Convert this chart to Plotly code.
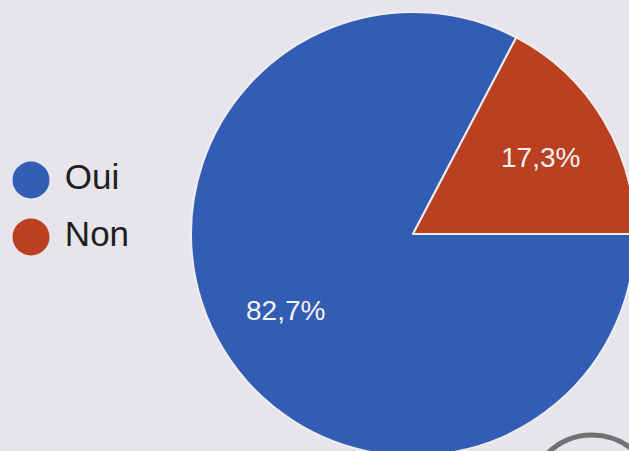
import math
import plotly.graph_objects as go

categories = ["Oui", "Non"]
values = [82.7, 17.3]
colors = ["#335db5", "#ba4021"]
text_labels = ["82,7%", "17,3%"]

BG = "#e7e4eb"
W, H = 640, 460          # slightly larger than the 629x451 window; the pie is cropped like the reference
CX, CY, R = 413, 234, 222  # pie centre / radius in pixels (from top-left)
FONT = "Liberation Sans, Arial, sans-serif"

fig = go.Figure()

fig.add_trace(go.Pie(
    labels=categories,
    values=values,
    textinfo="none",
    marker=dict(colors=colors, line=dict(color="#eeeeee", width=2)),
    sort=False,
    direction="clockwise",
    rotation=90,
    domain=dict(x=[(CX - R) / W, (CX + R) / W], y=[(H - CY - R) / H, (H - CY + R) / H]),
    showlegend=False,
    hoverinfo="label+percent",
))

# percentage labels placed along each slice's middle angle
total = sum(values)
start = 90.0
annotations = []
for v, t in zip(values, text_labels):
    span = 360.0 * v / total
    mid = math.radians(start + span / 2)
    start += span
    rr = 0.67 * R
    px = CX + rr * math.sin(mid)
    py = CY - rr * math.cos(mid)
    annotations.append(dict(
        x=px / W, y=(H - py) / H, xref="paper", yref="paper",
        text=t, showarrow=False, xanchor="center", yanchor="middle",
        font=dict(color="#f2f2f2", size=28, family=FONT),
    ))

# Legend drawn as a circle-marker trace, one row per category
LEG_X, LEG_Y0, LEG_DY = 31, 180, 57
y_range = [(H - LEG_Y0) / LEG_DY, (H - LEG_Y0) / LEG_DY - H / LEG_DY]
x_range = [-LEG_X / 10.0, (W - LEG_X) / 10.0]

fig.add_trace(go.Scatter(
    x=[0] * len(categories),
    y=list(range(len(categories))),
    mode="markers+text",
    marker=dict(color=colors, size=37, line=dict(width=0)),
    text=[" " + c for c in categories],
    textposition="middle right",
    textfont=dict(color="#1f1f1f", size=35, family=FONT),
    showlegend=False,
    hoverinfo="skip",
    cliponaxis=False,
))

fig.update_layout(
    width=W,
    height=H,
    margin=dict(l=0, r=0, t=0, b=0),
    paper_bgcolor=BG,
    plot_bgcolor="rgba(0,0,0,0)",
    xaxis=dict(range=x_range, visible=False, fixedrange=True),
    yaxis=dict(range=y_range, visible=False, fixedrange=True),
    annotations=annotations,
    shapes=[dict(
        type="circle", xref="paper", yref="paper",
        x0=(592 - 63) / W, x1=(592 + 63) / W,
        y0=(H - 498 - 63) / H, y1=(H - 498 + 63) / H,
        line=dict(color="#727272", width=5),
    )],
)

fig.write_html(
    "out.html",
    config={"displayModeBar": False},
    post_script="document.body.style.margin='0';document.body.style.overflow='hidden';"
                "document.documentElement.style.overflow='hidden';",
)
